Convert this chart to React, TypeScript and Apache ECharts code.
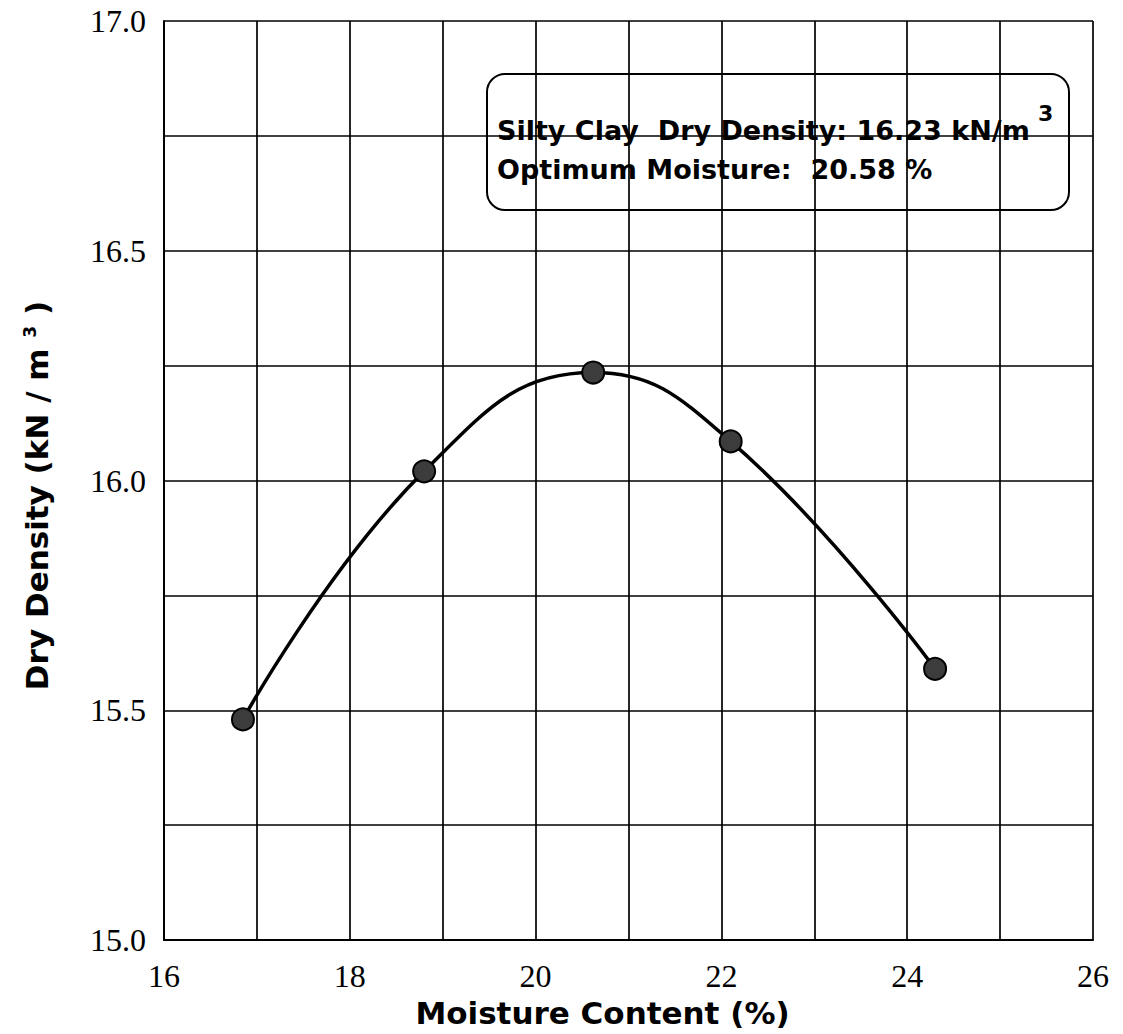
import React, { useEffect, useRef } from "react";
import * as echarts from "echarts";

// Compaction test points: moisture content (%) and dry density (kN/m3)
const moisture = [16.85, 18.8, 20.62, 22.1, 24.3];
const dryDensity = [15.48, 16.02, 16.235, 16.085, 15.59];

const xMin = 16;
const xMax = 26;
const yMin = 15;
const yMax = 17;
const xLabelValues = [16, 18, 20, 22, 24, 26];
const yLabelValues = [15.0, 15.5, 16.0, 16.5, 17.0];

const xTitle = "Moisture Content (%)";
const yTitleMain = "Dry Density (kN / m ";
const yTitleSup = "3";
const yTitleEnd = " )";
const boxLine1 = "Silty Clay  Dry Density: 16.23 kN/m";
const boxSup = "3";
const boxLine2 = "Optimum Moisture:  20.58 %";

const SANS = "'DejaVu Sans', 'Liberation Sans', Arial, sans-serif";
const SERIF = "'Liberation Serif', 'Times New Roman', serif";

export default function App() {
  const ref = useRef<HTMLDivElement>(null);
  useEffect(() => {
    if (!ref.current) return;
    const chart = echarts.init(ref.current, null, { renderer: "svg" });
    const near = (v: number, list: number[]) => list.some((t) => Math.abs(t - v) < 1e-6);
    chart.setOption({
      animation: false,
      backgroundColor: "#ffffff",
      grid: { left: 164, right: 30, top: 21, bottom: 94, containLabel: false },
      xAxis: {
        type: "value",
        min: xMin,
        max: xMax,
        interval: 1,
        axisLine: { show: true, lineStyle: { color: "#000", width: 2 } },
        axisTick: { show: false },
        splitLine: { show: true, lineStyle: { color: "#000", width: 1.7 } },
        axisLabel: {
          margin: 20,
          color: "#000",
          fontFamily: SERIF,
          fontSize: 32,
          formatter: (v: number) => (near(v, xLabelValues) ? String(v) : ""),
        },
        name: xTitle,
        nameLocation: "middle",
        nameGap: 57,
        nameTextStyle: {
          color: "#000",
          fontFamily: SANS,
          fontWeight: "bold",
          fontSize: 31,
          padding: [0, 52, 0, 0],
        },
      },
      yAxis: {
        type: "value",
        min: yMin,
        max: yMax,
        interval: 0.25,
        axisLine: { show: true, lineStyle: { color: "#000", width: 2 } },
        axisTick: { show: false },
        splitLine: { show: true, lineStyle: { color: "#000", width: 1.7 } },
        axisLabel: {
          margin: 18,
          color: "#000",
          fontFamily: SERIF,
          fontSize: 32,
          formatter: (v: number) => (near(v, yLabelValues) ? v.toFixed(1) : ""),
        },
        name: "{t|" + yTitleMain + "}{s|" + yTitleSup + "}{t|" + yTitleEnd + "}",
        nameLocation: "middle",
        nameGap: 112,
        nameTextStyle: {
          color: "#000",
          padding: [0, 30, 0, 0],
          rich: {
            t: { fontFamily: SANS, fontWeight: "bold", fontSize: 31, color: "#000" },
            s: { fontFamily: SANS, fontWeight: "bold", fontSize: 17, color: "#000", verticalAlign: "top", padding: [0, 0, 12, 0] },
          },
        },
      },
      series: [
        {
          type: "line",
          data: moisture.map((m, i) => [m, dryDensity[i]]),
          smooth: 0.45,
          symbol: "circle",
          symbolSize: 22,
          lineStyle: { color: "#000", width: 3.5 },
          itemStyle: { color: "#3c3c3c", borderColor: "#000", borderWidth: 2 },
          z: 5,
        },
      ],
      graphic: [
        {
          type: "group",
          z: 100,
          children: [
            {
              type: "rect",
              shape: { x: 487, y: 74, width: 582, height: 136, r: 18 },
              style: { fill: "#fff", stroke: "#000", lineWidth: 2 },
            },
            {
              type: "text",
              x: 497,
              y: 130,
              style: {
                text: boxLine1,
                fill: "#000",
                font: "bold 27px " + SANS,
                verticalAlign: "middle",
              },
            },
            {
              type: "text",
              x: 1038,
              y: 113,
              style: {
                text: boxSup,
                fill: "#000",
                font: "bold 22px " + SANS,
                verticalAlign: "middle",
              },
            },
            {
              type: "text",
              x: 497,
              y: 169,
              style: {
                text: boxLine2,
                fill: "#000",
                font: "bold 27px " + SANS,
                verticalAlign: "middle",
              },
            },
          ],
        },
      ],
    });
    return () => chart.dispose();
  }, []);
  return (
    <div
      ref={ref}
      style={{ position: "fixed", left: 0, top: 0, width: 1123, height: 1034, background: "#fff" }}
    />
  );
}
